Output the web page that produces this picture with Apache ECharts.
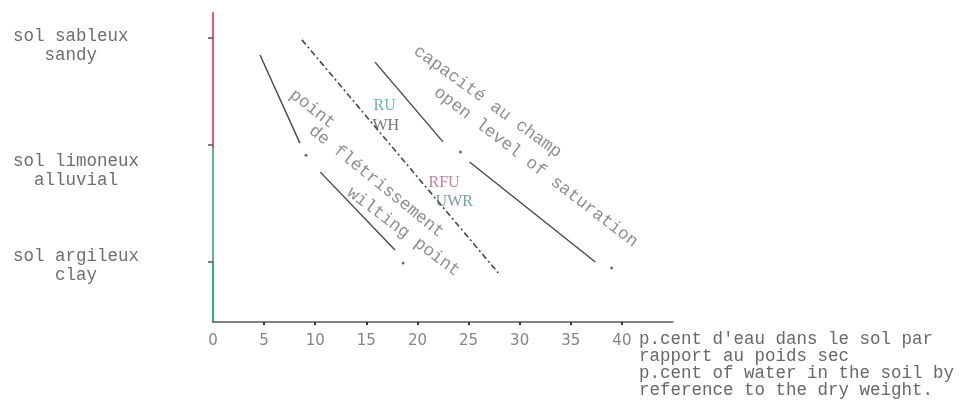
<!DOCTYPE html>
<html>
<head>
<meta charset="utf-8">
<script src="https://cdn.jsdelivr.net/npm/echarts@6/dist/echarts.min.js"></script>
<style>
html,body{margin:0;padding:0;background:#fff;}
#chart{width:960px;height:411px;}
</style>
</head>
<body>
<div id="chart"></div>
<script>
// ---- data ----
const xTickValues = [5, 10, 15, 20, 25, 30, 35, 40];
const xLabelValues = [0, 5, 10, 15, 20, 25, 30, 35, 40];
const soilNames = ['sol argileux\n    clay', 'sol limoneux\n  alluvial', 'sol sableux\n   sandy'];
const soilTickValues = [19.4, 57.3, 91.9];
const soilLabelValues = [18.3, 49.0, 89.5];
const xAxisName = "p.cent d'eau dans le sol par\nrapport au poids sec\np.cent of water in the soil by\nreference to the dry weight.";

const wiltingUpper = [[4.6, 86.4], [8.5, 57.9]];
const wiltingLower = [[10.5, 48.5], [17.8, 23.3]];
const dashDotLimit = [[8.7, 91.3], [27.9, 15.9]];
const fieldCapUpper = [[15.85, 84.1], [22.5, 58.3]];
const fieldCapLower = [[25.1, 51.8], [37.4, 19.4]];
const breakDots = [[9.1, 54.0], [18.6, 19.1], [24.2, 55.0], [39.0, 17.5]];

const annoTexts = ['point', 'de flétrissement', 'wilting point', 'capacité au champ', 'open level of saturation'];
const annoPos = [[7.7, 74.2], [9.6, 62.6], [13.3, 42.5], [19.8, 88.3], [21.8, 75.0]];
const zoneTexts = ['RU', 'WH', 'RFU', 'UWR'];
const zonePos = [[16.8, 69.9], [16.9, 63.4], [22.6, 45.0], [23.6, 38.8]];

// ---- styles ----
const zoneColors = {RU: '#3fa597', WH: '#5d5359', RFU: '#b3637d', UWR: '#4f8a88'};
const annoAngles = {'point': -38, 'de flétrissement': -39, 'wilting point': -37, 'capacité au champ': -36, 'open level of saturation': -37.5};
const mono = 'Liberation Mono';
const lineCol = '#474747';

const chart = echarts.init(document.getElementById('chart'), null, {renderer: 'canvas'});

function seg(data, type, width) {
  return {
    type: 'line', data: data, symbol: 'none', silent: true,
    lineStyle: {color: lineCol, width: width || 1.4, type: type || 'solid'},
    z: 3
  };
}

chart.setOption({
  animation: false,
  backgroundColor: '#ffffff',
  grid: {left: 213, right: 287, top: 13, bottom: 89, containLabel: false, outerBoundsMode: 'none'},
  xAxis: {
    type: 'value', min: 0, max: 45,
    name: xAxisName,
    nameLocation: 'end',
    nameGap: -34,
    nameMoveOverlap: false,
    nameTextStyle: {
      fontFamily: mono, fontSize: 17.5, color: '#686868', lineHeight: 17,
      align: 'left', verticalAlign: 'top', padding: [9, 0, 0, 0]
    },
    axisLine: {show: true, lineStyle: {color: '#5a5a5a', width: 1.5}},
    axisTick: {show: true, customValues: xTickValues, length: 3, lineStyle: {color: '#333', width: 2}},
    axisLabel: {
      customValues: xLabelValues, margin: 12,
      fontFamily: 'DejaVu Sans', fontSize: 15, color: '#858585',
      hideOverlap: false, showMinLabel: true, showMaxLabel: true
    },
    splitLine: {show: false}
  },
  yAxis: {
    type: 'value', min: 0, max: 100,
    axisLine: {show: true, lineStyle: {
      width: 2,
      color: {type: 'linear', x: 0, y: 13, x2: 0, y2: 322, global: true,
        colorStops: [
          {offset: 0, color: '#de5c7e'}, {offset: 0.437, color: '#de5c7e'},
          {offset: 0.437, color: '#62bb7c'}, {offset: 0.806, color: '#62bb7c'},
          {offset: 0.806, color: '#2faa86'}, {offset: 1, color: '#2faa86'}
        ]}
    }},
    axisTick: {show: true, customValues: soilTickValues, length: 5, lineStyle: {color: '#555', width: 1.5}},
    axisLabel: {
      customValues: soilLabelValues, margin: 200, align: 'left',
      fontFamily: mono, fontSize: 17.5, lineHeight: 19, color: '#6e6e6e',
      formatter: function (v) {
        let best = 0;
        for (let i = 0; i < soilLabelValues.length; i++) {
          if (Math.abs(soilLabelValues[i] - v) < Math.abs(soilLabelValues[best] - v)) best = i;
        }
        return soilNames[best];
      }
    },
    splitLine: {show: false}
  },
  series: [
    seg(wiltingUpper),
    seg(wiltingLower),
    seg(dashDotLimit, [6, 3, 2, 3], 1.6),
    seg(fieldCapUpper),
    seg(fieldCapLower),
    {
      type: 'scatter', data: breakDots, symbolSize: 3, silent: true,
      itemStyle: {color: lineCol}, z: 3
    },
    {
      type: 'scatter', silent: true, symbolSize: 0, z: 4,
      data: annoTexts.map((t, i) => ({name: t, value: annoPos[i], label: {rotate: annoAngles[t]}})),
      label: {
        show: true, position: [0, 0], align: 'left', verticalAlign: 'middle',
        formatter: '{b}',
        fontFamily: mono, fontSize: 17.5, color: '#727272'
      }
    },
    {
      type: 'scatter', silent: true, symbolSize: 0, z: 4,
      data: zoneTexts.map((t, i) => ({name: t, value: zonePos[i], label: {color: zoneColors[t]}})),
      label: {
        show: true, position: [0, 0], align: 'center', verticalAlign: 'middle',
        formatter: '{b}',
        fontFamily: 'Liberation Serif', fontSize: 16
      }
    }
  ]
});
</script>
</body>
</html>
